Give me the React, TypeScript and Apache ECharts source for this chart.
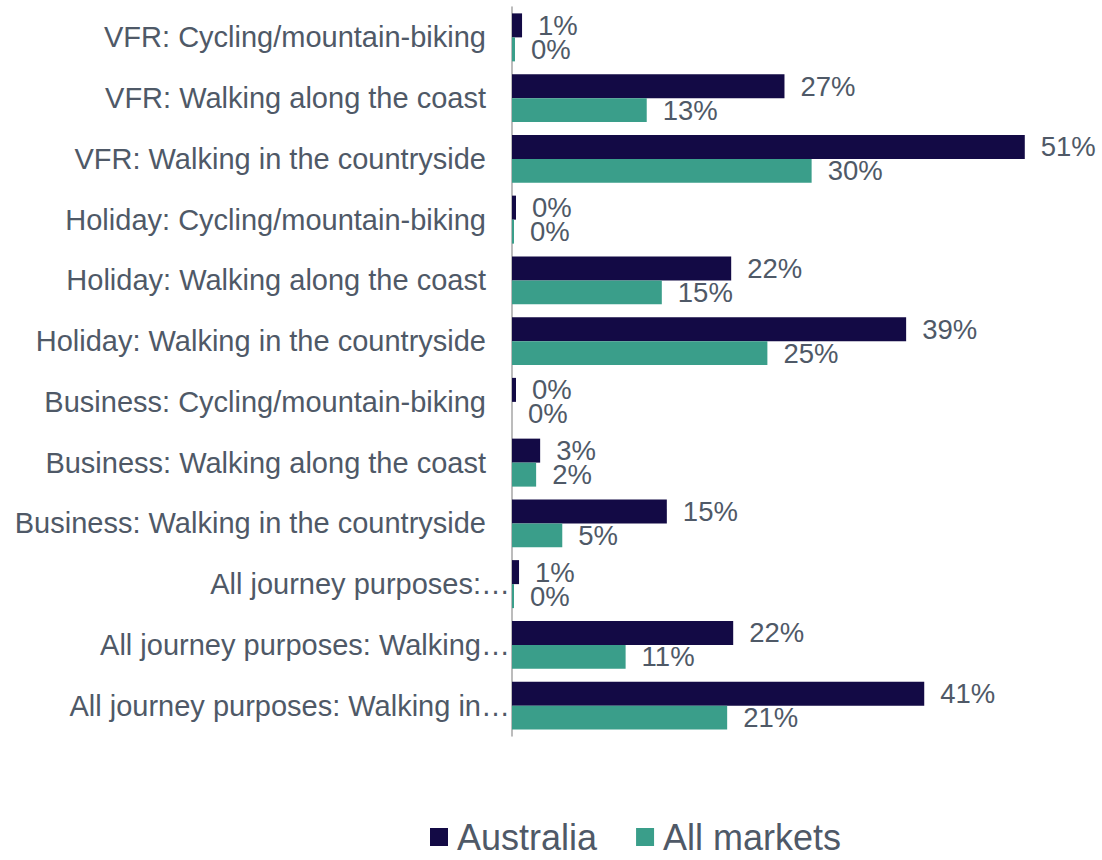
import React, { useEffect, useRef } from "react";
import * as echarts from "echarts";

const categories = [
  "VFR: Cycling/mountain-biking",
  "VFR: Walking along the coast",
  "VFR: Walking in the countryside",
  "Holiday: Cycling/mountain-biking",
  "Holiday: Walking along the coast",
  "Holiday: Walking in the countryside",
  "Business: Cycling/mountain-biking",
  "Business: Walking along the coast",
  "Business: Walking in the countryside",
  "All journey purposes:…",
  "All journey purposes: Walking…",
  "All journey purposes: Walking in…",
];

const australia = [1.0, 27.1, 51, 0.4, 21.8, 39.2, 0.4, 2.8, 15.4, 0.7, 22, 41];
const allMarkets = [0.3, 13.4, 29.8, 0.2, 14.9, 25.4, 0, 2.4, 5.0, 0.2, 11.3, 21.4];

const FONT = "'Liberation Sans', Arial, sans-serif";
const TEXT = "#4f5967";

export default function App() {
  const ref = useRef<HTMLDivElement>(null);
  useEffect(() => {
    document.body.style.margin = "0";
    const chart = echarts.init(ref.current!, null, { renderer: "svg" });
    const label = {
      show: true,
      position: "right",
      distance: 16,
      fontSize: 27.5,
      lineHeight: 23,
      fontFamily: FONT,
      color: TEXT,
      formatter: (p: any) => Math.round(p.value) + "%",
    };
    chart.setOption({
      animation: false,
      backgroundColor: "#ffffff",
      grid: { left: 512, right: 37, top: 7, bottom: 124, containLabel: false },
      xAxis: { type: "value", min: 0, max: 55, show: false },
      yAxis: {
        type: "category",
        data: categories,
        inverse: true,
        axisLine: { show: true, lineStyle: { color: "#a6a6a6", width: 1.5 } },
        axisTick: { show: false },
        splitLine: { show: false },
        axisLabel: {
          interval: 0,
          margin: 2,
          fontSize: 29,
          fontFamily: FONT,
          color: TEXT,
          formatter: (v: string) => (v.endsWith("…") ? `{t|${v}}` : `{n|${v}}`),
          rich: {
            t: { fontSize: 29, fontFamily: FONT, color: TEXT },
            n: { fontSize: 29, fontFamily: FONT, color: TEXT, padding: [0, 24, 0, 0] },
          },
        },
      },
      legend: {
        left: 425,
        top: 814,
        itemWidth: 18,
        itemHeight: 18,
        itemGap: 39,
        icon: "rect",
        textStyle: { fontSize: 36, lineHeight: 36, fontFamily: FONT, color: TEXT, padding: [0, 0, 0, 4] },
        data: ["Australia", "All markets"],
      },
      series: [
        {
          name: "Australia",
          type: "bar",
          data: australia,
          itemStyle: { color: "#130a45" },
          barGap: "0%",
          barCategoryGap: "21%",
          label,
        },
        {
          name: "All markets",
          type: "bar",
          data: allMarkets,
          itemStyle: { color: "#3a9e8a" },
          barGap: "0%",
          barCategoryGap: "21%",
          label,
        },
      ],
    });
    return () => chart.dispose();
  }, []);
  return <div ref={ref} style={{ width: 1102, height: 860 }} />;
}
